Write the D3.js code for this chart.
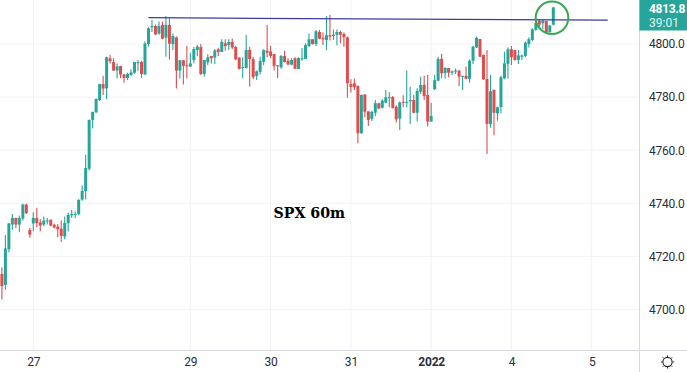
<!DOCTYPE html>
<html>
<head>
<meta charset="utf-8">
<script src="https://cdn.jsdelivr.net/npm/d3@7"></script>
<style>
html, body { margin: 0; padding: 0; background: #fff; }
svg { display: block; }
text { font-family: Roboto, sans-serif; }
</style>
</head>
<body>
<div id="chart"></div>
<script>
var w = 687;
var h = 372;
var plot_right = 639.5;
var plot_bottom = 350;

//hourly candles, one entry per bar, left to right
var opens = [4713.4,4709.3,4722.7,4732,4734.5,4732,4734.3,4739.5,4730,4732.4,4734.5,4732.8,4732,4733.2,4733.8,4731.9,4731.2,4730.4,4727.5,4732.5,4735.5,4735.8,4735.9,4741.4,4744.6,4753,
	4771.4,4774.3,4778.9,4784.9,4783.3,4794.6,4793.2,4790,4791.7,4788.5,4787.2,4788.3,4789.2,4793,4793.2,4788.5,4800,4806.3,4806.8,4803.9,4807.2,4802.4,4807.2,4800,4802.5,4790,4793.9,4792,4791.5,4794,4797.7,4798.9,4788.7,4793.1,4795.5,4794.9,4798,4797,4800.3,
	4799.6,4800.8,4798.9,4794.9,4791,4791,4797.8,4794.3,4788,4789.5,4793.3,4797.5,4797.2,4796.2,4792,4791.2,4795.5,4793.7,4792.2,4794.6,4790.6,4794.4,4794.4,4799.2,4801.8,4800,4804.5,4802.3,4801.5,4803.3,4803,4803.5,4804.5,4803.8,4802.5,4784.9,4785.2,4784.2,4766.4,4781,4774.6,
	4771.8,4774.1,4777.7,4776,4777.9,4779.8,4780,4776.4,4771.9,4778.2,4777.9,4778.4,4778.9,4774.1,4782,4784.6,4780.8,4770.8,4783,4786.2,4794.4,4789,4791,4789.2,4789.6,4790,4787.7,4788,4786.9,4793.7,4798.7,4801.9,4795.9,
	4786.8,4769.9,4782.7,4773.9,4776.2,4787.1,4792.5,4798,4797.7,4794,4795.2,4795.5,4800,4801.5,4805.3,4808.8,4807.8,4808.7,4804.4,4807.3];
var highs = [4715.9,4728.1,4732.6,4736,4734.6,4735.4,4739.8,4739.8,4730.7,4736.6,4738.3,4734.1,4735,4734.5,4733.9,4732.3,4732.2,4733.5,4735,4736.5,4737.5,4736.9,4741.5,4746.7,4758.3,4771.6,
	4774.6,4779.5,4785,4788,4795.2,4795.9,4794.6,4792.7,4791.8,4788.7,4789.2,4790.5,4793.3,4794,4793.7,4800.9,4806.3,4809,4807.3,4808.5,4808.5,4810.5,4809.7,4804,4802.8,4794,4793.9,4799.2,4796.7,4799,4799.6,4800,4794,4796.1,4795.5,4798.1,4798.6,4801.8,4801.8,
	4801.8,4802.1,4799.2,4795,4795,4803.4,4799,4795.2,4790,4795.2,4798,4807.2,4799.2,4796.2,4792,4795.9,4797.5,4794.6,4794.6,4795,4795,4798.4,4800.3,4804,4801.8,4805.3,4805.3,4804.3,4810.5,4810.9,4805.5,4805.5,4805,4804.3,4802.8,4786.7,4787,4784.4,4781,4781,4774.7,
	4774.9,4778.9,4777.9,4779.2,4782.7,4781.9,4780.4,4776.9,4778.3,4780.7,4790,4783.9,4780.8,4783.3,4787.7,4788,4788.3,4777.9,4788.3,4795.2,4796.2,4791.2,4791,4790,4790.8,4790.2,4788,4791.5,4794.2,4799.2,4802.8,4801.9,4796,
	4797.7,4788.3,4782.9,4776.4,4788,4797.1,4798.7,4799.2,4797.7,4797.7,4796,4800.9,4802.5,4805.9,4809.7,4809.3,4809.3,4808.7,4807.1,4813.8];
var lows = [4703.8,4707.4,4721.6,4730,4730.6,4729.1,4733.5,4736,4727,4729.5,4731,4729.5,4731.4,4732,4731.4,4730.5,4727.2,4725.4,4726.5,4729.4,4734.5,4734.5,4735.5,4741,4741.4,4752.4,
	4768.2,4773.9,4778.5,4780.8,4779.2,4792.7,4789.8,4787,4787.1,4785.4,4786.4,4788,4788.8,4789.7,4787.3,4788.4,4799,4804.5,4803.4,4803.5,4801.8,4795.2,4794.2,4797.7,4783.2,4787,4784.7,4787,4791.4,4792.7,4795.5,4788.3,4787.7,4792.1,4792.7,4792.5,4795.5,4797,4797.5,
	4797.7,4798,4794,4790.4,4787.1,4790.8,4784,4786.7,4786.4,4788.5,4792.1,4795,4794.6,4790,4787.2,4790.7,4793,4792,4792,4790.5,4790.5,4793.7,4794.3,4799,4799.8,4799.2,4801.8,4799.6,4797.7,4801.3,4801.5,4799.5,4800.3,4799,4779.8,4781.7,4782.7,4762.6,4766.2,4772.4,4769.1,
	4771,4772.9,4775.4,4775.7,4777.7,4776.2,4775.7,4770.4,4767.6,4776.2,4776.2,4769.9,4773.9,4770.8,4781.2,4778.9,4768.9,4770.7,4782.7,4786,4787.1,4787,4787.5,4788.3,4788.7,4784.2,4782.7,4786.7,4785.4,4792.5,4798.5,4795,4786.5,
	4758.6,4768.5,4765.6,4771.1,4773.9,4786.7,4787,4792.1,4793.7,4792.5,4794,4795,4798.7,4801,4805,4805.8,4805.6,4804,4804.3,4807];
var closes = [4708.8,4723,4732.4,4734.5,4732,4734.5,4739.5,4736.3,4728.2,4734.5,4732.5,4731.6,4733.5,4733.5,4731.6,4730.9,4730.2,4727.7,4732.6,4735.6,4736,4736,4741.3,4744.7,4753.3,4771.4,
	4774.4,4779.3,4784.9,4783.2,4795,4793.5,4790,4791.6,4788.5,4787.2,4788.7,4789.3,4793.2,4793.2,4788.7,4800.2,4805.9,4806.8,4803.6,4806.8,4802,4807.2,4800.1,4803,4790,4793.9,4791.8,4791.7,4792.7,4798.1,4799,4788.7,4794,4795,4794.6,4797.5,4797,4800.8,4799.2,
	4800.8,4798.7,4794.2,4790.6,4791.3,4797.8,4794.3,4787.5,4789.7,4793.6,4797.7,4796.7,4795.5,4791.8,4791.7,4795.5,4793.2,4792.3,4794,4790.7,4794.7,4794.6,4799.6,4801.8,4800,4804.8,4802,4801.8,4803.3,4802.8,4803.5,4804.5,4803.5,4802.5,4785.2,4783.8,4783.7,4766.4,4780.8,4774.5,4771.4,
	4774.4,4777.7,4775.7,4778.7,4779.9,4780,4775.9,4771.6,4778,4777.9,4778.2,4778.9,4774.1,4782.4,4784.6,4780.4,4770.8,4772.9,4786.4,4794.4,4789,4791,4789.2,4789.7,4790,4787.7,4788,4786.9,4793.7,4799,4802.3,4795.2,4786.7,
	4769.9,4782.2,4774.1,4776.2,4787.5,4792.7,4798,4795,4794,4795.7,4795.7,4800.5,4801.8,4805.5,4808,4807.3,4808.8,4804.4,4807,4813.8];

var price_ticks = [4700, 4720, 4740, 4760, 4780, 4800];
var time_bars = [9, 54, 77, 100, 123, 146, 169];
var time_labels = ['27', '29', '30', '31', '2022', '4', '5'];

//resistance line, bar index and price at both ends
var trend_bars = [42, 173.6];
var trend_prices = [4809.9, 4809.0];
var last_price = '4813.8';
var countdown = '39:01';

var up_color = '#26a69a';
var down_color = '#dc4f4e';
var grid_color = '#f0f2f6';
var axis_color = '#d6d8de';
var text_color = '#2a2e39';

var x_scale = d3.scaleLinear().domain([0, 158]).range([1.9, 553.3]);
var y_scale = d3.scaleLinear().domain([4700, 4800]).range([309.5, 44]);

var svg = d3.select('#chart')
			.append('svg')
			.attr('width', w)
			.attr('height', h);

svg.append('rect').attr('width', w).attr('height', h).attr('fill', '#fff');

//grid
svg.append('g')
	.selectAll('line')
	.data(price_ticks)
	.enter()
	.append('line')
	.attr('x1', 0)
	.attr('x2', plot_right)
	.attr('y1', function(d) { return y_scale(d); })
	.attr('y2', function(d) { return y_scale(d); })
	.attr('stroke', grid_color);

svg.append('g')
	.selectAll('line')
	.data(time_bars)
	.enter()
	.append('line')
	.attr('x1', function(d) { return x_scale(d); })
	.attr('x2', function(d) { return x_scale(d); })
	.attr('y1', 0)
	.attr('y2', plot_bottom)
	.attr('stroke', grid_color);

//candles
var bars = opens.map(function(o, i) {
	return {i: i, o: o, h: highs[i], l: lows[i], c: closes[i]};
});

function barColor(d) {
	return d.c >= d.o ? up_color : down_color;
}

svg.append('g')
	.selectAll('line')
	.data(bars)
	.enter()
	.append('line')
	.attr('x1', function(d) { return x_scale(d.i); })
	.attr('x2', function(d) { return x_scale(d.i); })
	.attr('y1', function(d) { return y_scale(d.h); })
	.attr('y2', function(d) { return y_scale(d.l); })
	.attr('stroke', barColor)
	.attr('stroke-width', 1.1);

svg.append('g')
	.selectAll('rect')
	.data(bars)
	.enter()
	.append('rect')
	.attr('x', function(d) { return x_scale(d.i) - 1.5; })
	.attr('width', 3)
	.attr('y', function(d) { return y_scale(Math.max(d.o, d.c)); })
	.attr('height', function(d) { return Math.max(1, Math.abs(y_scale(d.o) - y_scale(d.c))); })
	.attr('fill', barColor);

//trend line
svg.append('line')
	.attr('x1', x_scale(trend_bars[0]))
	.attr('x2', x_scale(trend_bars[1]))
	.attr('y1', y_scale(trend_prices[0]))
	.attr('y2', y_scale(trend_prices[1]))
	.attr('stroke', '#3c3ca0')
	.attr('stroke-width', 1.25);

//circle round the last bar
svg.append('circle')
	.attr('cx', 552)
	.attr('cy', 17.7)
	.attr('r', 16.3)
	.attr('fill', 'none')
	.attr('stroke', '#35a852')
	.attr('stroke-width', 2);

svg.append('text')
	.attr('x', 273.5)
	.attr('y', 218.3)
	.attr('font-size', 14.2)
	.attr('font-weight', 'bold')
	.style('font-family', "'DejaVu Serif', serif")
	.attr('fill', '#000')
	.text('SPX 60m');

//axes
var price_axis = d3.axisRight(y_scale)
					.tickValues(price_ticks)
					.tickSize(0)
					.tickPadding(9.5)
					.tickFormat(d3.format('.1f'));

var ya = svg.append('g')
	.attr('transform', 'translate(' + plot_right + ',0)')
	.call(price_axis);
ya.select('.domain').remove();
ya.selectAll('text')
	.attr('font-size', 12)
	.style('font-family', 'Roboto, sans-serif')
	.style('letter-spacing', '-0.22px')
	.attr('fill', text_color);

var time_scale = d3.scaleOrdinal().domain(time_bars).range(time_bars.map(function(d) { return x_scale(d); }));
var time_axis = d3.axisBottom(time_scale)
					.tickValues(time_bars)
					.tickSize(0)
					.tickPadding(7)
					.tickFormat(function(d, i) { return time_labels[i]; });

var xa = svg.append('g')
	.attr('transform', 'translate(0,' + plot_bottom + ')')
	.call(time_axis);
xa.select('.domain').remove();
xa.selectAll('text')
	.attr('font-size', 12)
	.style('font-family', 'Roboto, sans-serif')
	.style('letter-spacing', '-0.2px')
	.attr('font-weight', function(d, i) { return time_labels[i] === '2022' ? 'bold' : 'normal'; })
	.attr('fill', text_color);

//axis borders
svg.append('line')
	.attr('x1', plot_right).attr('x2', plot_right)
	.attr('y1', 0).attr('y2', h)
	.attr('stroke', axis_color);
svg.append('line')
	.attr('x1', 0).attr('x2', w)
	.attr('y1', plot_bottom + 0.5).attr('y2', plot_bottom + 0.5)
	.attr('stroke', axis_color);

//last price tag
svg.append('rect')
	.attr('x', plot_right)
	.attr('y', 0)
	.attr('width', w - plot_right)
	.attr('height', 30.5)
	.attr('fill', up_color);
svg.append('text')
	.attr('x', 649)
	.attr('y', 13.3)
	.attr('font-size', 12)
	.style('letter-spacing', '-0.3px')
	.attr('font-weight', 'bold')
	.attr('fill', '#fff')
	.text(last_price);
svg.append('text')
	.attr('x', 649)
	.attr('y', 27)
	.attr('font-size', 12)
	.attr('fill', '#e4f4f2')
	.text(countdown);

//settings icon
var gear = svg.append('g')
	.attr('transform', 'translate(667.5,362)')
	.attr('fill', 'none')
	.attr('stroke', '#1e222d');
gear.append('circle').attr('r', 4.6).attr('stroke-width', 1.1);
d3.range(8).forEach(function(k) {
	var a = k * Math.PI / 4;
	gear.append('line')
		.attr('x1', Math.cos(a) * 5.2).attr('y1', Math.sin(a) * 5.2)
		.attr('x2', Math.cos(a) * 6.6).attr('y2', Math.sin(a) * 6.6)
		.attr('stroke-width', 1);
});
</script>
</body>
</html>
